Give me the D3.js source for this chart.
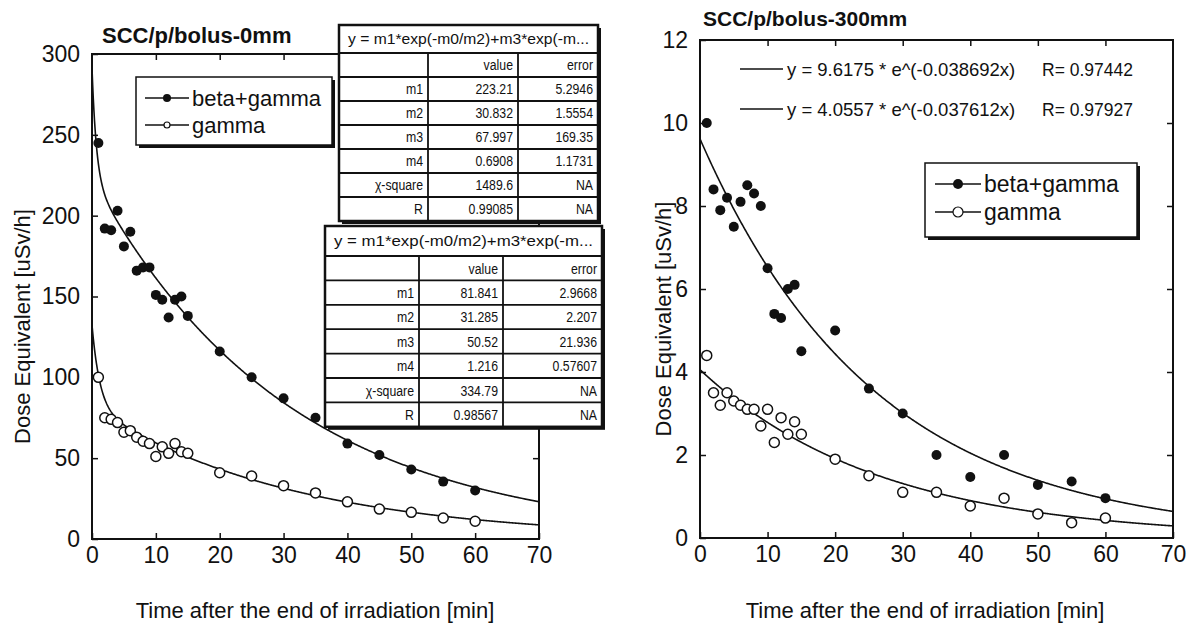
<!DOCTYPE html>
<html>
<head>
<meta charset="utf-8">
<script src="https://cdn.jsdelivr.net/npm/d3@7"></script>
<style>
  html, body { margin: 0; padding: 0; background: #fff; }
  svg text { font-family: Arial, "Liberation Sans", sans-serif; fill: #111; }
</style>
</head>
<body>
<svg id="chart" width="1195" height="630"></svg>
<script>
// ---------------- DATA ----------------
const times = [1,2,3,4,5,6,7,8,9,10,11,12,13,14,15,20,25,30,35,40,45,50,55,60];

// Left panel (bolus 0 mm)
const leftBetaGamma = [245,192,191,203,181,190,166,168,168,151,148,137,148,150,138,116,100,87,75,59,52,43,35.5,30];
const leftGamma     = [100,75,74,72,66,67,63,60.5,59,51,57,53,59,54,53,41,39,33,28.5,23,18.5,16.5,13,11];

// Right panel (bolus 300 mm)
const rightBetaGamma = [10.0,8.4,7.9,8.2,7.5,8.1,8.5,8.3,8.0,6.5,5.4,5.3,6.0,6.1,4.5,5.0,3.6,3.0,2.0,1.47,2.0,1.28,1.36,0.96];
const rightGamma     = [4.4,3.5,3.2,3.5,3.3,3.2,3.1,3.1,2.7,3.1,2.3,2.9,2.5,2.8,2.5,1.9,1.5,1.1,1.1,0.77,0.96,0.58,0.37,0.48];

// Fit parameters (as printed on the chart)
const leftFitBG = [223.21, 30.832, 67.997, 0.6908];   // m1, m2, m3, m4
const leftFitG  = [81.841, 31.285, 50.52, 1.216];
const rightFitBG = [9.6175, 0.038692];
const rightFitG  = [4.0557, 0.037612];

// Axis ticks
const xTicks = [0,10,20,30,40,50,60,70];
const leftYTicks = [0,50,100,150,200,250,300];
const rightYTicks = [0,2,4,6,8,10,12];

// Texts
const leftTitle = "SCC/p/bolus-0mm";
const rightTitle = "SCC/p/bolus-300mm";
const yTitle = "Dose Equivalent [uSv/h]";
const xTitle = "Time after the end of irradiation [min]";
const seriesNames = ["beta+gamma", "gamma"];
const rightEquations = ["y = 9.6175 * e^(-0.038692x)", "y = 4.0557 * e^(-0.037612x)"];
const rightR = ["R= 0.97442", "R= 0.97927"];

// Fit tables
const fitHeader = "y = m1*exp(-m0/m2)+m3*exp(-m...";
const tableColHeads = ["", "value", "error"];
const paramLabels = ["m1","m2","m3","m4","χ-square","R"];
const table1Values = ["223.21","30.832","67.997","0.6908","1489.6","0.99085"];
const table1Errors = ["5.2946","1.5554","169.35","1.1731","NA","NA"];
const table2Values = ["81.841","31.285","50.52","1.216","334.79","0.98567"];
const table2Errors = ["2.9668","2.207","21.936","0.57607","NA","NA"];

// ---------------- DRAW ----------------
const svg = d3.select("#chart");
const INK = "#111";
const fitXs = d3.range(0, 70.001, 0.1);

function panel(cfg) {
  const g = svg.append("g");
  const x = d3.scaleLinear().domain([0, 70]).range([cfg.left, cfg.right]);
  const y = d3.scaleLinear().domain([0, cfg.yMax]).range([cfg.bottom, cfg.top]);

  const clipId = "clip" + cfg.id;
  svg.append("clipPath").attr("id", clipId).append("rect")
    .attr("x", cfg.left).attr("y", cfg.top)
    .attr("width", cfg.right - cfg.left).attr("height", cfg.bottom - cfg.top);

  const ax = (axis, tr) => {
    const a = g.append("g").attr("transform", tr).call(axis);
    a.select(".domain").remove();
    a.selectAll("line").attr("stroke", INK).attr("stroke-width", 1.5);
    return a;
  };
  ax(d3.axisBottom(x).tickValues(xTicks).tickSize(-6).tickPadding(8).tickFormat(d3.format("d")),
     `translate(0,${cfg.bottom})`)
    .selectAll("text").attr("font-size", 23).attr("fill", INK);
  ax(d3.axisTop(x).tickValues(xTicks.slice(1, -1)).tickSize(-6).tickFormat(""),
     `translate(0,${cfg.top})`);
  ax(d3.axisLeft(y).tickValues(cfg.yTicks).tickSize(-6).tickPadding(12).tickFormat(d3.format("d")),
     `translate(${cfg.left},0)`)
    .selectAll("text").attr("font-size", 23).attr("fill", INK);
  ax(d3.axisRight(y).tickValues(cfg.yTicks.slice(1, -1)).tickSize(-6).tickFormat(""),
     `translate(${cfg.right},0)`);

  g.append("rect").attr("x", cfg.left).attr("y", cfg.top)
    .attr("width", cfg.right - cfg.left).attr("height", cfg.bottom - cfg.top)
    .attr("fill", "none").attr("stroke", INK).attr("stroke-width", 2);

  const line = d3.line().x(d => x(d[0])).y(d => y(d[1]));
  cfg.fits.forEach(f => {
    g.append("path").attr("clip-path", `url(#${clipId})`)
      .datum(fitXs.map(t => [t, f(t)]))
      .attr("d", line).attr("fill", "none").attr("stroke", INK).attr("stroke-width", 1.6);
  });

  g.append("g").selectAll("circle").data(times.map((t, i) => [t, cfg.bg[i]]))
    .join("circle").attr("cx", d => x(d[0])).attr("cy", d => y(d[1])).attr("r", 5)
    .attr("fill", INK);
  g.append("g").selectAll("circle").data(times.map((t, i) => [t, cfg.gm[i]]))
    .join("circle").attr("cx", d => x(d[0])).attr("cy", d => y(d[1])).attr("r", 5)
    .attr("fill", "#fff").attr("stroke", INK).attr("stroke-width", 1.5);

  g.append("text").attr("x", cfg.titleX).attr("y", cfg.titleY)
    .attr("font-size", cfg.titleSize).attr("font-weight", "bold").text(cfg.title);
  g.append("text").attr("transform", `translate(${cfg.yTitleX},${(cfg.top + cfg.bottom) / 2 + 30}) rotate(-90)`)
    .attr("text-anchor", "middle").attr("font-size", 22).text(yTitle);
  g.append("text").attr("x", cfg.xTitleX).attr("y", 618)
    .attr("text-anchor", "middle").attr("font-size", 22).text(xTitle);
  return { g, x, y };
}

panel({
  id: "L", left: 92, right: 539, top: 54, bottom: 539, yMax: 300, yTicks: leftYTicks,
  bg: leftBetaGamma, gm: leftGamma,
  fits: [t => leftFitBG[0] * Math.exp(-t / leftFitBG[1]) + leftFitBG[2] * Math.exp(-t / leftFitBG[3]),
         t => leftFitG[0] * Math.exp(-t / leftFitG[1]) + leftFitG[2] * Math.exp(-t / leftFitG[3])],
  title: leftTitle, titleSize: 22, titleX: 102, titleY: 43, yTitleX: 30, xTitleX: 315
});
panel({
  id: "R", left: 700, right: 1173, top: 40, bottom: 538, yMax: 12, yTicks: rightYTicks,
  bg: rightBetaGamma, gm: rightGamma,
  fits: [t => rightFitBG[0] * Math.exp(-rightFitBG[1] * t),
         t => rightFitG[0] * Math.exp(-rightFitG[1] * t)],
  title: rightTitle, titleSize: 21, titleX: 703, titleY: 26, yTitleX: 671, xTitleX: 925
});

function legend(x0, y0, w, h, rows, lx0, lx1, fs, rs) {
  const g = svg.append("g");
  g.append("rect").attr("x", x0 + 3).attr("y", y0 + 3).attr("width", w).attr("height", h).attr("fill", INK);
  g.append("rect").attr("x", x0).attr("y", y0).attr("width", w).attr("height", h)
    .attr("fill", "#fff").attr("stroke", INK).attr("stroke-width", 1.5);
  seriesNames.forEach((name, i) => {
    const yy = rows[i];
    g.append("line").attr("x1", lx0).attr("x2", lx1).attr("y1", yy).attr("y2", yy)
      .attr("stroke", INK).attr("stroke-width", 1.3);
    const c = g.append("circle").attr("cx", (lx0 + lx1) / 2).attr("cy", yy).attr("r", rs[i]);
    if (i === 0) c.attr("fill", INK);
    else c.attr("fill", "#fff").attr("stroke", INK).attr("stroke-width", 1.2);
    g.append("text").attr("x", lx1 + 3).attr("y", yy + fs * 0.36).attr("font-size", fs).text(name);
  });
}
legend(136, 77, 196, 68, [98, 125], 145, 189, 22, [4, 3]);
legend(925, 163, 212, 74, [184, 212], 935, 981, 23, [5, 5]);

rightEquations.forEach((eq, i) => {
  const yy = [69, 109][i];
  svg.append("line").attr("x1", 740).attr("x2", 783).attr("y1", yy).attr("y2", yy)
    .attr("stroke", INK).attr("stroke-width", 1.3);
  svg.append("text").attr("x", 787).attr("y", yy + 7).attr("font-size", 18.5).text(eq);
  svg.append("text").attr("x", 1042).attr("y", yy + 7).attr("font-size", 17.5).text(rightR[i]);
});

function table(x0, y0, cols, headH, rowH, values, errors) {
  const g = svg.append("g");
  const w = cols[3] - cols[0];
  const h = headH + rowH * 7;
  g.append("rect").attr("x", x0 + 3).attr("y", y0 + 3).attr("width", w).attr("height", h).attr("fill", INK);
  g.append("rect").attr("x", x0).attr("y", y0).attr("width", w).attr("height", h)
    .attr("fill", "#fff").attr("stroke", INK).attr("stroke-width", 2.5);
  g.append("text").attr("x", x0 + w / 2).attr("y", y0 + headH / 2 + 5)
    .attr("text-anchor", "middle").attr("font-size", 14.5).attr("textLength", w - 18)
    .attr("lengthAdjust", "spacingAndGlyphs").text(fitHeader);
  for (let r = 0; r < 7; r++) {
    const yy = y0 + headH + r * rowH;
    g.append("line").attr("x1", x0).attr("x2", x0 + w).attr("y1", yy).attr("y2", yy)
      .attr("stroke", INK).attr("stroke-width", 1.8);
  }
  [cols[1], cols[2]].forEach(cx => {
    g.append("line").attr("x1", cx).attr("x2", cx).attr("y1", y0 + headH).attr("y2", y0 + h)
      .attr("stroke", INK).attr("stroke-width", 1.8);
  });
  const rowsData = [[tableColHeads[0], tableColHeads[1], tableColHeads[2]]]
    .concat(paramLabels.map((l, i) => [l, values[i], errors[i]]));
  rowsData.forEach((row, r) => {
    const yy = y0 + headH + r * rowH + rowH / 2 + 5.5;
    row.forEach((txt, c) => {
      const ax = cols[c + 1] - 5;
      g.append("text").attr("x", ax).attr("y", yy)
        .attr("text-anchor", "end").attr("font-size", 15).text(txt)
        .attr("transform", `translate(${ax},0) scale(0.82,1) translate(${-ax},0)`);
    });
  });
}
table(339, 25, [339, 428, 518, 598], 28, 24, table1Values, table1Errors);
table(325, 226, [325, 419, 503, 602], 30, 24.4, table2Values, table2Errors);
</script>
</body>
</html>
